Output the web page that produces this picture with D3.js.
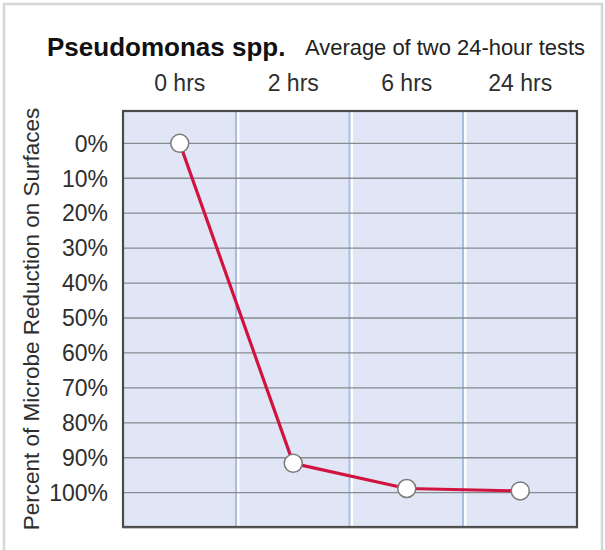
<!DOCTYPE html>
<html><head><meta charset="utf-8">
<script src="https://cdn.jsdelivr.net/npm/d3@7"></script>
<style>html,body{margin:0;padding:0;background:#fff;}svg{display:block;}</style>
</head><body>
<script>
const categories = ["0 hrs", "2 hrs", "6 hrs", "24 hrs"];
const reductionValues = [0, 91.6, 98.8, 99.5];
const yTicks = [0, 10, 20, 30, 40, 50, 60, 70, 80, 90, 100];
const yTickLabels = ["0%", "10%", "20%", "30%", "40%", "50%", "60%", "70%", "80%", "90%", "100%"];
const titleText = "Pseudomonas spp.";
const subtitleText = "Average of two 24-hour tests";
const yAxisTitle = "Percent of Microbe Reduction on Surfaces";

const W = 605, H = 550;
const font = "'Liberation Sans', Arial, Helvetica, sans-serif";
const svg = d3.select("body").append("svg").attr("width", W).attr("height", H);

// outer frame
svg.append("rect").attr("x", 4).attr("y", 4).attr("width", 598).attr("height", 560)
  .attr("fill", "none").attr("stroke", "#d6d6d6").attr("stroke-width", 2.5);

const plot = {left: 123, right: 577, top: 111, bottom: 527};
const x = d3.scaleBand().domain(categories).range([plot.left, plot.right]).padding(0);
const y = d3.scaleLinear().domain([0, 100]).range([143.3, 492.7]);

// background
svg.append("rect").attr("x", plot.left).attr("y", plot.top)
  .attr("width", plot.right - plot.left).attr("height", plot.bottom - plot.top)
  .attr("fill", "#e0e6f5");

// vertical separators (blue + white highlight)
const seps = categories.slice(1).map(c => x(c));
svg.selectAll(".vsepB").data(seps).enter().append("line")
  .attr("x1", d => d - 0.5).attr("x2", d => d - 0.5)
  .attr("y1", plot.top).attr("y2", plot.bottom)
  .attr("stroke", "#a9bde2").attr("stroke-width", 2);
svg.selectAll(".vsepW").data(seps).enter().append("line")
  .attr("x1", d => d + 1.8).attr("x2", d => d + 1.8)
  .attr("y1", plot.top).attr("y2", plot.bottom)
  .attr("stroke", "#ffffff").attr("stroke-width", 2.2);

// horizontal gridlines
svg.selectAll(".hgrid").data(yTicks).enter().append("line")
  .attr("x1", plot.left).attr("x2", plot.right)
  .attr("y1", d => y(d)).attr("y2", d => y(d))
  .attr("stroke", "#878a91").attr("stroke-width", 1.3);

// plot frame
svg.append("rect").attr("x", plot.left).attr("y", plot.top)
  .attr("width", plot.right - plot.left).attr("height", plot.bottom - plot.top)
  .attr("fill", "none").attr("stroke", "#4a4a4a").attr("stroke-width", 2.2);
svg.append("line").attr("x1", plot.left - 0.5).attr("x2", plot.right + 1)
  .attr("y1", plot.bottom + 0.5).attr("y2", plot.bottom + 0.5)
  .attr("stroke", "#555").attr("stroke-width", 1.5);

// line
const pts = categories.map((c, i) => [x(c) + x.bandwidth() / 2, y(reductionValues[i])]);
svg.append("path").datum(pts)
  .attr("d", d3.line())
  .attr("fill", "none").attr("stroke", "#d0143f").attr("stroke-width", 3.2)
  .attr("stroke-linejoin", "round");

svg.selectAll(".pt").data(pts).enter().append("circle")
  .attr("cx", d => d[0]).attr("cy", d => d[1]).attr("r", 9)
  .attr("fill", "#fff").attr("stroke", "#7a7a7a").attr("stroke-width", 1.5);

// y tick labels
svg.selectAll(".ytl").data(yTicks).enter().append("text")
  .attr("x", 108).attr("y", d => y(d)).attr("dy", "0.36em")
  .attr("text-anchor", "end").attr("font-family", font).attr("font-size", 23)
  .attr("fill", "#2e2e2e")
  .text((d, i) => yTickLabels[i]);

// column headers
svg.selectAll(".hdr").data(categories).enter().append("text")
  .attr("x", d => x(d) + x.bandwidth() / 2).attr("y", 91)
  .attr("text-anchor", "middle").attr("font-family", font).attr("font-size", 23)
  .attr("fill", "#2e2e2e").text(d => d);

// titles
svg.append("text").attr("x", 47).attr("y", 56)
  .attr("font-family", font).attr("font-size", 26).attr("font-weight", "bold")
  .attr("fill", "#111").text(titleText);
svg.append("text").attr("x", 305).attr("y", 55)
  .attr("font-family", font).attr("font-size", 22).attr("fill", "#222")
  .attr("textLength", 280).attr("lengthAdjust", "spacingAndGlyphs")
  .text(subtitleText);

// y axis title
svg.append("text").attr("transform", "translate(38.5,319) rotate(-90)")
  .attr("text-anchor", "middle").attr("font-family", font).attr("font-size", 22.5)
  .attr("fill", "#2e2e2e").text(yAxisTitle);
</script>
</body></html>
